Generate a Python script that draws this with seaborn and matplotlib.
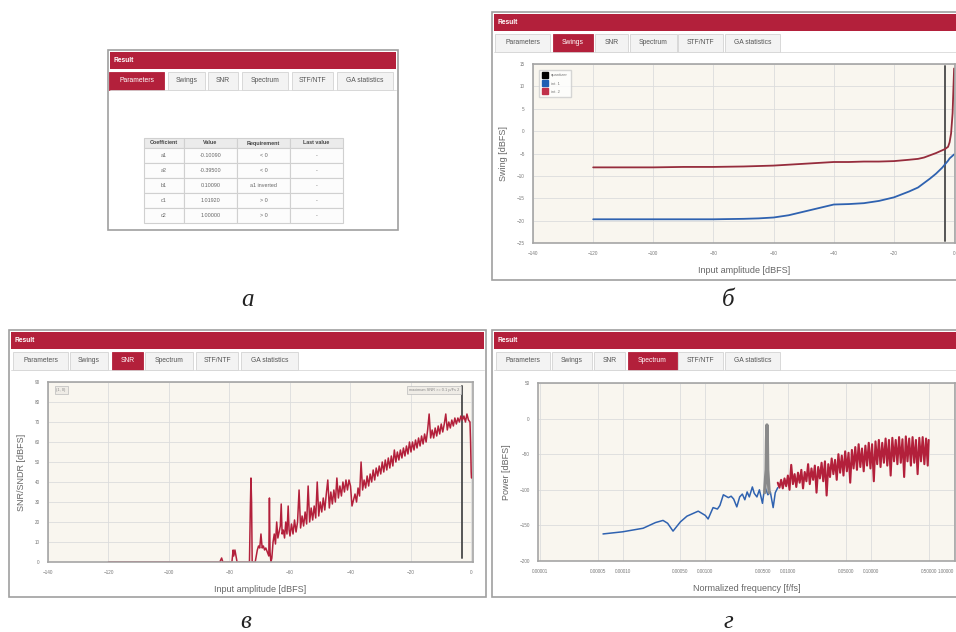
import numpy as np
import matplotlib
matplotlib.use("Agg")
import matplotlib.pyplot as plt
from matplotlib.patches import Rectangle
from matplotlib.lines import Line2D
import seaborn as sns

# --------------------------- DATA ---------------------------
tab_names = ['Parameters', 'Swings', 'SNR', 'Spectrum', 'STF/NTF', 'GA statistics']

table_header = ['Coefficient', 'Value', 'Requirement', 'Last value']
coef_names = ['a1', 'a2', 'b1', 'c1', 'c2']
coef_values = ['-0.10090', '-0.39500', '0.10090', '1.01920', '1.00000']
coef_requirements = ['< 0', '< 0', 'a1 inverted', '> 0', '> 0']
coef_last = ['-', '-', '-', '-', '-']

# swings vs input amplitude
swing_amp = [-120, -110, -100, -90, -80, -70, -65, -60, -55, -50, -45, -40, -35, -30,
             -25, -20, -15, -12, -10, -8, -6, -4, -3, -2, -1.5, -1, -0.5, 0]
swing_int1 = [-19.7, -19.7, -19.7, -19.7, -19.7, -19.6, -19.5, -19.3, -18.8, -18.0, -17.2,
              -16.4, -16.3, -16.1, -15.6, -14.8, -13.5, -12.6, -11.6, -10.6, -9.5, -8.2,
              -7.4, -6.6, -6.1, -5.8, -5.5, -5.2]
swing_int2 = [-8.1, -8.1, -8.1, -8.0, -8.0, -7.9, -7.8, -7.7, -7.5, -7.3, -7.1, -6.9, -6.9,
              -6.8, -6.8, -6.7, -6.4, -6.2, -5.9, -5.4, -4.9, -4.3, -4.0, -3.5, -2.5, -0.5,
              4.0, 14.0]
quant_amp = [-3, -3]
quant_swing = [-24.5, 14.5]
swing_legend = ['quantizer', 'int. 1', 'int. 2']

# SNR vs input amplitude
snr_amp = [-120, -84, -83.2, -82.6, -82.2, -80, -79.2, -78.8, -78.6, -78.2, -77.5, -73.4,
           -73.1, -72.9, -72.7, -72.5, -72.2, -71.5, -70.8, -70.4, -70.0, -69.6, -69.2,
           -68.8, -68.4, -68.0, -67.5, -67.0, -66.8, -66.6, -66.3, -66.0, -65.6, -65.2,
           -64.8, -64.4, -64.0, -63.6, -63.2, -62.9, -62.6, -62.2, -61.8, -61.4, -61.0,
           -60.6, -60.3,
           -60, -59.5, -59, -58.5, -58, -57.5, -57, -56.5, -56, -55.5, -55, -54.5, -54,
           -53.5, -53, -52.5, -52, -51.5, -51, -50.5, -50, -49.5, -49, -48.5, -48, -47.5,
           -47, -46.5, -46, -45.5, -45, -44.5, -44, -43.5, -43, -42.5, -42, -41.5, -41,
           -40.5, -40, -39.5, -39, -38.5, -38, -37.5, -37, -36.5, -36, -35.5, -35, -34.5,
           -34, -33.5, -33, -32.5, -32, -31.5, -31, -30.5, -30, -29.5, -29, -28.5, -28,
           -27.5, -27, -26.5, -26, -25.5, -25, -24.5, -24, -23.5, -23, -22.5, -22, -21.5,
           -21, -20.5, -20, -19.5, -19, -18.5, -18, -17.5, -17, -16.5, -16, -15.5, -15,
           -14.5, -14, -13.5, -13, -12.5, -12, -11.5, -11, -10.5, -10, -9.5, -9, -8.5, -8,
           -7.5, -7, -6.5, -6, -5.5, -5, -4.5, -4, -3.5, -3, -2.5, -2, -1.5, -1, -0.5,
           -0.3, -0.1, 0]
snr_db = [0, 0, 0, 2, 0, 0, 0, 6, 3, 6, 0, 0, 28, 42, 30, 0, 0, 0, 6, 8, 7, 14, 7, 8, 6, 7,
          5, 3, 32, 5, 0, 2, 10, 14, 9, 20, 12, 15, 18, 29, 14, 16, 12, 20, 14, 28, 16,
          13, 19, 14, 21, 15, 20, 36, 17, 23, 18, 25, 19, 38, 20, 27, 21, 28, 22, 40, 23,
          30, 25, 32, 26, 34, 41, 27, 35, 29, 36, 30, 42, 32, 38, 33, 40, 35, 41, 36, 41,
          38, 28, 31, 34, 30, 37, 33, 50, 36, 41, 37, 43, 38, 44, 40, 46, 41, 47, 43, 48,
          44, 50, 45, 51, 46, 52, 47, 53, 48, 56, 50, 55, 51, 56, 52, 57, 53, 58, 54, 60,
          55, 60, 56, 61, 57, 62, 58, 63, 59, 64, 60, 66, 74, 62, 66, 62, 67, 63, 68, 64,
          69, 65, 69, 74, 66, 70, 67, 71, 68, 72, 69, 72, 70, 73, 71, 73, 70, 74, 71, 70,
          60, 45, 42]
snr_marker_amp = [-3, -3]
snr_marker_db = [2, 88]

# spectrum
spec_lo_f = [5.8e-5, 1.0e-4, 1.77e-4, 2.5e-4, 3.08e-4, 3.5e-4, 4.07e-4, 5.0e-4, 6.0e-4,
             8.2e-4, 1.0e-3, 1.08e-3, 1.24e-3, 1.4e-3, 1.5e-3, 1.65e-3, 1.9e-3, 2.05e-3,
             2.2e-3, 2.4e-3, 2.6e-3, 2.8e-3, 3.0e-3, 3.2e-3, 3.4e-3, 3.7e-3, 3.9e-3,
             4.2e-3, 4.5e-3, 4.9e-3, 5.1e-3, 5.3e-3, 5.7e-3, 6.1e-3, 6.6e-3, 7.0e-3,
             7.5e-3]
spec_lo_p = [-162, -159, -154, -146, -143, -147, -158, -145, -137, -130, -136, -141, -125,
             -127, -122, -107, -111, -109, -113, -124, -110, -106, -114, -103, -110, -96,
             -105, -110, -100, -119, -104, -97, -107, -103, -125, -104, -97]
spec_hi_f = [0.00750, 0.00786, 0.00824, 0.00863, 0.00905, 0.00948, 0.00994, 0.01041,
             0.01091, 0.01144, 0.01199, 0.01256, 0.01317, 0.01380, 0.01446, 0.01515,
             0.01588, 0.01665, 0.01745, 0.01828, 0.01916, 0.02008, 0.02105, 0.02206,
             0.02311, 0.02422, 0.02539, 0.02660, 0.02788, 0.02922, 0.03062, 0.03209,
             0.03363, 0.03525, 0.03694, 0.03871, 0.04057, 0.04252, 0.04456, 0.04670,
             0.04894, 0.05129, 0.05375, 0.05633, 0.05903, 0.06187, 0.06484, 0.06795,
             0.07121, 0.07463, 0.07821, 0.08197, 0.08590, 0.09002, 0.09435, 0.09887,
             0.1036, 0.1086, 0.1138, 0.1193, 0.1250, 0.1310, 0.1373, 0.1439, 0.1508,
             0.1580, 0.1656, 0.1736, 0.1819, 0.1906, 0.1998, 0.2094, 0.2194, 0.2300,
             0.2410, 0.2526, 0.2647, 0.2774, 0.2907, 0.3047, 0.3193, 0.3346, 0.3507,
             0.3675, 0.3851, 0.4036, 0.4230, 0.4433, 0.4646, 0.4869, 0.5000]
spec_hi_p = [-90, -97, -86, -98, -84, -95, -80, -100, -65, -92, -78, -96, -76, -90, -72,
             -98, -75, -88, -64, -92, -70, -86, -66, -104, -68, -84, -62, -88, -60, -108,
             -64, -82, -56, -78, -58, -86, -50, -76, -52, -80, -46, -74, -48, -90, -44,
             -70, -40, -72, -36, -68, -42, -74, -38, -66, -34, -70, -36, -88, -32, -64,
             -30, -68, -34, -62, -28, -66, -30, -80, -27, -60, -30, -64, -26, -62, -29,
             -82, -25, -60, -28, -66, -26, -62, -30, -78, -27, -60, -26, -64, -28, -66,
             -30]
tone_f = [0.0052, 0.00543, 0.00549, 0.00555, 0.00561, 0.00567, 0.0059]
tone_p = [-104, -72, -30, -9, -30, -72, -104]

spec_ticks = [1e-5, 5e-5, 1e-4, 5e-4, 1e-3, 5e-3, 1e-2, 5e-2, 1e-1, 5e-1, 1.0]
spec_ticklabels = ['0.00001', '0.00005', '0.00010', '0.00050', '0.00100', '0.00500',
                   '0.01000', '0.05000', '0.10000', '0.50000', '1.00000']

captions = ['а', 'б', 'в', 'г']

# --------------------------- STYLE ---------------------------
sns.set_theme(style="white")
plt.rcParams['font.family'] = ['Liberation Sans', 'DejaVu Sans']

W, H = 956, 632
RED = '#b3203b'
BLUE = '#2f62b0'
PLOT_BG = '#f9f6ef'
GRID = '#dcdcdc'
TXT = '#666666'

fig = plt.figure(figsize=(W / 100, H / 100), dpi=100, facecolor='white')

# background axes in pixel coordinates for the GUI frames
bg = fig.add_axes([0, 0, 1, 1])
bg.set_xlim(0, W)
bg.set_ylim(H, 0)
bg.axis('off')


def px_rect(x0, y0, x1, y1):
    return [x0 / W, 1 - y1 / H, (x1 - x0) / W, (y1 - y0) / H]


def draw_panel(box, tabs, active):
    x0, y0, x1, y1 = box
    bg.add_patch(Rectangle((x0, y0), x1 - x0, y1 - y0, fc='white', ec='#a0a0a0', lw=1.2))
    bg.add_patch(Rectangle((x0 + 2, y0 + 2), x1 - x0 - 4, 17, fc=RED, ec='none'))
    bg.text(x0 + 6, y0 + 10.5, 'Result', color='white', fontsize=4.8,
            fontweight='bold', va='center')
    ty0, ty1 = y0 + 22, y0 + 40
    bg.plot([x0 + 2, x1 - 2], [ty1, ty1], color='#d8d8d8', lw=0.6)
    for (a, b), name in zip(tabs, tab_names):
        on = name == active
        bg.add_patch(Rectangle((a, ty0), b - a, ty1 - ty0, fc=RED if on else '#f3f3f3',
                               ec=RED if on else '#d4d4d4', lw=0.6))
        bg.text((a + b) / 2, (ty0 + ty1) / 2, name, fontsize=4.9,
                color='white' if on else '#555555', ha='center', va='center')


def style_axes(ax):
    ax.set_facecolor(PLOT_BG)
    ax.grid(True, color=GRID, lw=0.6)
    for s in ax.spines.values():
        s.set_color('#a5a5a5')
        s.set_linewidth(1.2)
    ax.tick_params(axis='both', labelsize=3.3, colors='#888888', length=2, width=0.5,
                   pad=4, labelcolor='#777777')


# --------------------------- PANEL A: PARAMETERS ---------------------------
draw_panel((108, 50, 398, 230),
           [(109, 164), (168, 205), (208, 238), (242, 288), (292, 333), (337, 393)],
           'Parameters')
col_edges = [144, 184, 237, 290, 343]
row_edges = [138, 148, 163, 178, 193, 208, 223]
table_cols = [coef_names, coef_values, coef_requirements, coef_last]
for j in range(4):
    xa, xb = col_edges[j], col_edges[j + 1]
    bg.add_patch(Rectangle((xa, row_edges[0]), xb - xa, row_edges[1] - row_edges[0],
                           fc='#ebebeb', ec='#d0d0d0', lw=0.8))
    bg.text((xa + xb) / 2, (row_edges[0] + row_edges[1]) / 2, table_header[j],
            fontsize=3.9, fontweight='bold', color='#444444', ha='center', va='center')
    for i, val in enumerate(table_cols[j]):
        ya, yb = row_edges[i + 1], row_edges[i + 2]
        bg.add_patch(Rectangle((xa, ya), xb - xa, yb - ya, fc='#fcfcfc', ec='#d0d0d0', lw=0.8))
        bg.text((xa + xb) / 2, (ya + yb) / 2, val, fontsize=3.9, color='#666666',
                ha='center', va='center')

# --------------------------- PANEL B: SWINGS ---------------------------
draw_panel((492, 12, 958, 280),
           [(495, 550), (553, 593), (595, 628), (630, 677), (678, 723), (725, 780)],
           'Swings')
ax_sw = fig.add_axes(px_rect(533, 64, 955, 243))
style_axes(ax_sw)
sns.lineplot(x=quant_amp, y=quant_swing, ax=ax_sw, color='#555555', lw=1.4,
             estimator=None, sort=False)
sns.lineplot(x=swing_amp, y=swing_int1, ax=ax_sw, color=BLUE, lw=1.3,
             estimator=None, sort=False)
sns.lineplot(x=swing_amp, y=swing_int2, ax=ax_sw, color='#962c3c', lw=1.3,
             estimator=None, sort=False)
ax_sw.set_xlim(-140, 0.3)
ax_sw.set_ylim(-25, 15)
ax_sw.set_xticks(range(-140, 1, 20))
ax_sw.set_yticks(range(-25, 16, 5))
ax_sw.set_xlabel('Input amplitude [dBFS]', fontsize=6.5, color=TXT, labelpad=7)
ax_sw.set_ylabel('Swing [dBFS]', fontsize=6.5, color=TXT, labelpad=6)
handles = [Line2D([], [], marker='s', ls='none', color=c, markersize=4.5)
           for c in ['black', '#1f5fb4', '#c0304a']]
ax_sw.legend(handles, swing_legend, loc='upper left', fontsize=3, frameon=True,
             handlelength=1, borderpad=0.9, labelspacing=1.0, facecolor='white',
             edgecolor='#cccccc', labelcolor='#777777', bbox_to_anchor=(0.01, 0.98))

# --------------------------- PANEL C: SNR ---------------------------
draw_panel((9, 330, 486, 597),
           [(13, 68), (70, 108), (112, 143), (145, 193), (196, 238), (241, 298)],
           'SNR')
ax_snr = fig.add_axes(px_rect(48, 382, 473, 562))
style_axes(ax_snr)
sns.lineplot(x=snr_marker_amp, y=snr_marker_db, ax=ax_snr, color='#555555', lw=1.4,
             estimator=None, sort=False)
sns.lineplot(x=snr_amp, y=snr_db, ax=ax_snr, color=RED, lw=1.1,
             estimator=None, sort=False)
ax_snr.set_xlim(-140, 0.5)
ax_snr.set_ylim(0, 90)
ax_snr.set_xticks(range(-140, 1, 20))
ax_snr.set_yticks(range(0, 91, 10))
ax_snr.set_xlabel('Input amplitude [dBFS]', fontsize=6.5, color=TXT, labelpad=7)
ax_snr.set_ylabel('SNR/SNDR [dBFS]', fontsize=6.5, color=TXT, labelpad=6)
box_kw = dict(fc='#efece6', ec='#bbbbbb', lw=0.5, boxstyle='square,pad=0.5')
ax_snr.text(0.02, 0.965, '(1, 0)', transform=ax_snr.transAxes, fontsize=2.8,
            color='#888888', va='top', bbox=box_kw)
ax_snr.text(0.968, 0.965, 'maximum SNR >= 0.1 p/Fs 2', transform=ax_snr.transAxes,
            fontsize=2.8, color='#888888', va='top', ha='right', bbox=box_kw)

# --------------------------- PANEL D: SPECTRUM ---------------------------
draw_panel((492, 330, 958, 597),
           [(496, 550), (552, 592), (594, 625), (628, 677), (678, 723), (725, 780)],
           'Spectrum')
ax_sp = fig.add_axes(px_rect(538, 383, 955, 561))
style_axes(ax_sp)
ax_sp.set_xscale('log')
sns.lineplot(x=spec_hi_f, y=spec_hi_p, ax=ax_sp, color=RED, lw=1.5,
             estimator=None, sort=False)
sns.lineplot(x=spec_lo_f, y=spec_lo_p, ax=ax_sp, color=BLUE, lw=1.1,
             estimator=None, sort=False)
sns.lineplot(x=tone_f, y=tone_p, ax=ax_sp, color='#8a8a8a', lw=2.4,
             estimator=None, sort=False)
ax_sp.set_xlim(0.95e-5, 1.04)
ax_sp.set_ylim(-200, 50)
ax_sp.set_xticks(spec_ticks)
ax_sp.set_xticklabels(spec_ticklabels)
ax_sp.get_xticklabels()[-1].set_horizontalalignment('right')
ax_sp.minorticks_off()
ax_sp.set_yticks(range(-200, 51, 50))
ax_sp.set_xlabel('Normalized frequency [f/fs]', fontsize=6.5, color=TXT, labelpad=7)
ax_sp.set_ylabel('Power [dBFS]', fontsize=6.5, color=TXT, labelpad=6)

# --------------------------- CAPTIONS ---------------------------
for (cx, cy), cap in zip([(248, 300), (728, 300), (246, 622), (728, 622)], captions):
    bg.text(cx, cy, cap, fontsize=18, style='italic', family='Liberation Serif',
            ha='center', va='center', color='#222222')

fig.savefig('out.png', dpi=100, facecolor='white')
